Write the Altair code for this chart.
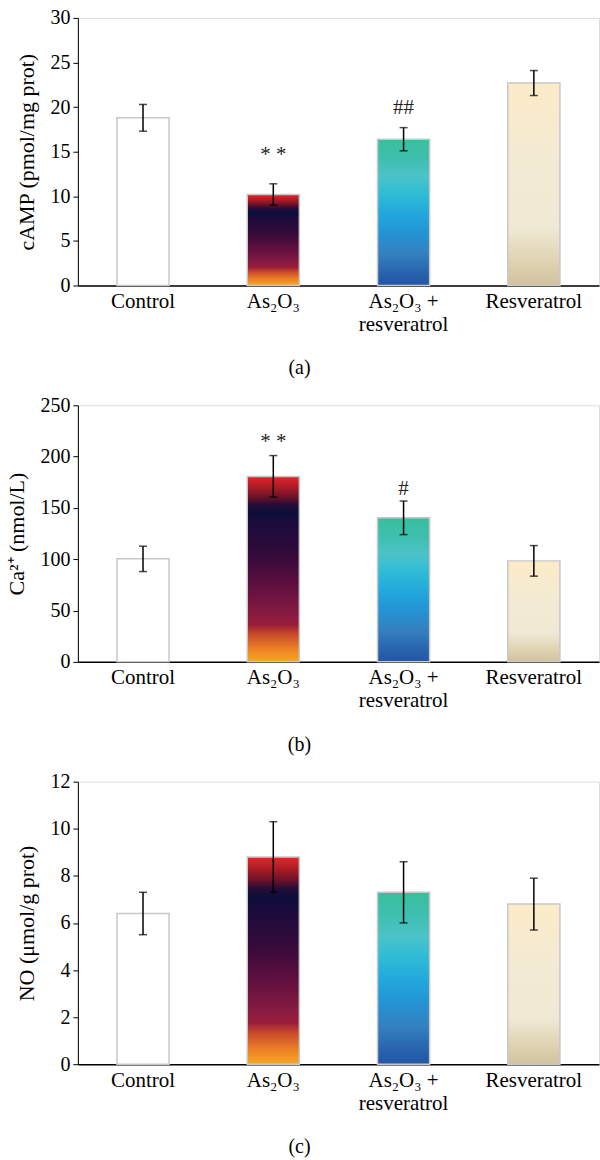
import altair as alt
import pandas as pd

# ---------------- data ----------------
categories = ["Control", "As₂O₃", "As₂O₃ +|resveratrol", "Resveratrol"]

camp_mean = [18.8, 10.2, 16.4, 22.7]
camp_low = [17.3, 9.0, 15.1, 21.3]
camp_high = [20.3, 11.4, 17.7, 24.1]
camp_sig = ["", "* *", "##", ""]
camp_sig_y = [None, 14.6, 19.95, None]

ca_mean = [100.4, 180.7, 140.5, 98.4]
ca_low = [88.0, 160.6, 124.0, 83.5]
ca_high = [112.7, 201.0, 156.7, 113.3]
ca_sig = ["", "* *", "#", ""]
ca_sig_y = [None, 214.0, 168.0, None]

no_mean = [6.4, 8.8, 7.3, 6.8]
no_low = [5.5, 7.3, 6.0, 5.7]
no_high = [7.3, 10.3, 8.6, 7.9]
no_sig = ["", "", "", ""]
no_sig_y = [None, None, None, None]

camp_ticks = [0, 5, 10, 15, 20, 25, 30]
ca_ticks = [0, 50, 100, 150, 200, 250]
no_ticks = [0, 2, 4, 6, 8, 10, 12]

# ---------------- styles ----------------
FONT = "Liberation Serif"


def grad(stops):
    return alt.LinearGradient(
        gradient="linear", x1=0, y1=1, x2=0, y2=0,
        stops=[alt.GradientStop(offset=o, color=c) for o, c in stops],
    )


fills = [
    "#ffffff",
    grad([(0.0, "#f6a821"), (0.075, "#ec7d26"), (0.15, "#c84a2a"), (0.2, "#9a1d3a"),
          (0.27, "#841a42"), (0.43, "#5a0e3e"), (0.58, "#330a3a"), (0.74, "#1c0b3c"),
          (0.81, "#0d0e3a"), (0.85, "#2a0c36"), (0.89, "#6e1228"), (0.94, "#a81c26"),
          (1.0, "#e8242a")]),
    grad([(0.0, "#2457a8"), (0.06, "#265eaa"), (0.22, "#3480c0"), (0.36, "#2394d4"),
          (0.49, "#22a8dc"), (0.63, "#30bcd6"), (0.75, "#4cc3c8"), (0.86, "#3fbfb0"),
          (1.0, "#38bf9c")]),
    grad([(0.0, "#d2c29e"), (0.13, "#e0d4b4"), (0.28, "#efe8d4"), (0.6, "#f3ead4"),
          (1.0, "#fcebc8")]),
]


def panel(mean, low, high, sig, sig_y, ticks, ytitle, height, letter):
    df = pd.DataFrame({"cat": categories, "mean": mean, "low": low, "high": high,
                       "sig": sig, "sig_y": sig_y})
    xscale = alt.Scale(domain=categories, paddingInner=0.6, paddingOuter=0.3)
    xaxis = alt.Axis(title=None, labelExpr="split(datum.label, '|')", labelAngle=0,
                     ticks=False, domainColor="black", domainWidth=1.5,
                     labelFont=FONT, labelFontSize=21, labelColor="black",
                     labelPadding=5, labelLineHeight=23)
    yscale = alt.Scale(domain=[ticks[0], ticks[-1]], nice=False, zero=True)
    yaxis = alt.Axis(title=ytitle, values=ticks, grid=False, tickSize=5,
                     tickColor="black", domainColor="black", labelFont=FONT,
                     labelFontSize=20, labelColor="black", labelPadding=3,
                     titleFont=FONT, titleFontSize=22, titleFontWeight="normal",
                     titleColor="black", titlePadding=11)
    x = alt.X("cat:N", sort=categories, scale=xscale, axis=xaxis)

    base = alt.Chart(df)
    layers = []
    for cat, fill in zip(categories, fills):
        layers.append(
            base.transform_filter(alt.datum.cat == cat)
            .mark_bar(fill=fill, stroke="#c8c8c8", strokeWidth=1.5)
            .encode(x=x, y=alt.Y("mean:Q", scale=yscale, axis=yaxis))
        )
    layers.append(
        base.mark_rule(color="black", strokeWidth=1.5).encode(
            x=x, y=alt.Y("low:Q", scale=yscale, axis=yaxis), y2="high:Q")
    )
    for f in ["low", "high"]:
        layers.append(
            base.mark_tick(color="black", size=8, thickness=1.5).encode(
                x=x, y=alt.Y(f"{f}:Q", scale=yscale, axis=yaxis))
        )
    layers.append(
        base.transform_filter("datum.sig_y != null")
        .mark_text(font=FONT, fontSize=21, color="#231f20", baseline="middle")
        .encode(x=x, y=alt.Y("sig_y:Q", scale=yscale, axis=yaxis), text="sig:N")
    )
    return alt.layer(*layers).properties(
        width=522, height=height,
        title=alt.TitleParams(text=letter, orient="bottom", font=FONT, fontSize=20,
                              fontWeight="normal", color="black", offset=24, dx=-39),
    )


pa = panel(camp_mean, camp_low, camp_high, camp_sig, camp_sig_y, camp_ticks,
           "cAMP (pmol/mg prot)", 268, "(a)")
pb = panel(ca_mean, ca_low, ca_high, ca_sig, ca_sig_y, ca_ticks,
           "Ca²⁺ (nmol/L)", 257, "(b)")
pc = panel(no_mean, no_low, no_high, no_sig, no_sig_y, no_ticks,
           "NO (μmol/g prot)", 283, "(c)")

chart = (
    alt.vconcat(pa, pb, pc, spacing=120, bounds="flush")
    .properties(padding={"left": 5, "top": 6, "right": 0, "bottom": 0})
    .configure_view(stroke=None)
    .configure(background="white")
)

chart.save("out.html", embed_options={"renderer": "svg", "actions": False})
